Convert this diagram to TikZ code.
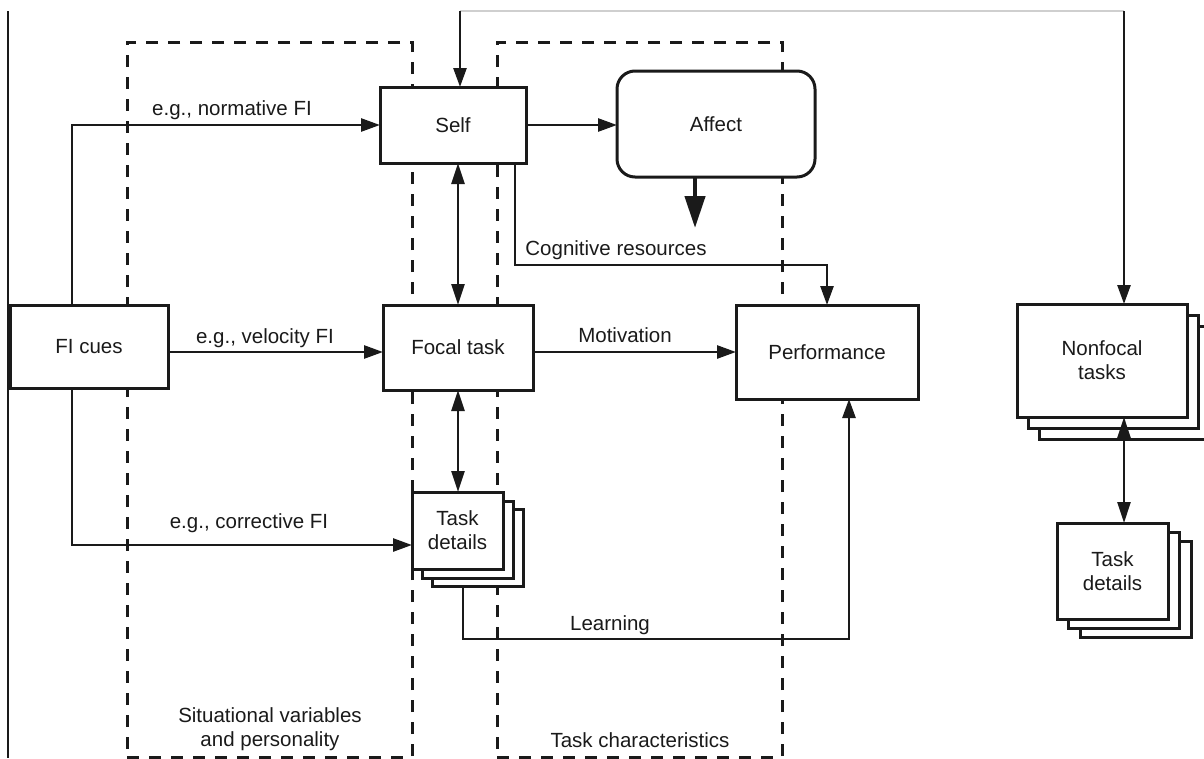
\documentclass[tikz,border=0pt]{standalone}
\usepackage{fontspec}
\setmainfont{Liberation Sans}
\usetikzlibrary{arrows.meta}
\definecolor{ink}{HTML}{1A1A1A}
\definecolor{rule}{HTML}{CFCFCF}
\begin{document}
\begin{tikzpicture}[x=1pt,y=-1pt,
  every node/.style={font=\fontsize{20.5}{24}\selectfont, text=ink},
  box/.style={draw=ink, line width=3pt, fill=white, inner sep=0pt, outer sep=0pt, align=center},
  conn/.style={draw=ink, line width=2.6pt, -{Triangle[length=19pt,width=13pt]}},
  both/.style={draw=ink, line width=2.6pt, {Triangle[length=21pt,width=13pt]}-{Triangle[length=21pt,width=13pt]}},
  heavy/.style={draw=ink, line width=4.5pt, -{Triangle[length=32pt,width=20pt]}},
  zone/.style={draw=ink, line width=3pt, dash pattern=on 12pt off 10pt, inner sep=0pt, outer sep=0pt},
  lbl/.style={inner sep=0pt, align=center}]
\useasboundingbox (0,0) rectangle (1204,758);

% moderator zones
\node[zone, minimum width=285pt, minimum height=715pt] (sitzone) at (269.5,399.5) {};
\node[zone, minimum width=285pt, minimum height=715pt] (taskzone) at (639.5,399.5) {};
\node[lbl] (sitlbl) at (270,729) {Situational variables\\and personality};
\node[lbl] (tasklbl) at (640,740) {Task characteristics};

% feedback loop frame
\coordinate (loopL) at (460,11);
\coordinate (loopR) at (1124,11);
\coordinate (frameT) at (8,11);
\coordinate (frameB) at (8,758);
\draw[rule, line width=1.2pt] (loopL) -- (loopR);
\draw[ink, line width=2.6pt] (frameT) -- (frameB);

% main boxes
\node[box, minimum width=158pt, minimum height=83pt] (fi) at (89,346.5) {FI cues};
\node[box, minimum width=146pt, minimum height=76pt] (self) at (453,125) {Self};
\node[box, rounded corners=18pt, minimum width=198pt, minimum height=106pt] (affect) at (716,124) {Affect};
\node[box, minimum width=150pt, minimum height=85pt] (focal) at (458,347.5) {Focal task};
\node[box, minimum width=182pt, minimum height=94pt] (perf) at (827,352) {Performance};

% stacked task details (focal)
\node[box, minimum width=91pt, minimum height=77pt] (tdC) at (477.5,547.5) {};
\node[box, minimum width=91pt, minimum height=77pt] (tdB) at (467.5,539.5) {};
\node[box, minimum width=91pt, minimum height=77pt] (td) at (457.5,530.5) {Task\\details};

% stacked nonfocal tasks
\node[box, minimum width=170pt, minimum height=113pt] (nfC) at (1124,382.5) {};
\node[box, minimum width=170pt, minimum height=113pt] (nfB) at (1113,371.5) {};
\node[box, minimum width=170pt, minimum height=113pt] (nf) at (1102,360.5) {Nonfocal\\tasks};

% stacked task details (nonfocal)
\node[box, minimum width=111pt, minimum height=96pt] (tdnC) at (1135.5,589) {};
\node[box, minimum width=111pt, minimum height=96pt] (tdnB) at (1123.5,580) {};
\node[box, minimum width=111pt, minimum height=96pt] (tdn) at (1112.5,571) {Task\\details};

% connectors
\draw[conn] (loopL) -- (loopL |- self.north);
\draw[conn] (loopR) -- (loopR |- nf.north);
\draw[conn] ([xshift=-17pt]fi.north) |- (self.west);
\draw[conn] (fi.east |- perf.west) -- (focal.west |- perf.west);
\draw[conn] ([xshift=-17pt]fi.south) |- ([yshift=-14.5pt]td.west);
\draw[conn] (self.east) -- (self.east -| affect.west);
\draw[heavy] ([xshift=-21pt]affect.south) -- ++(0,51);
\draw[conn] ([xshift=62pt]self.south) -- ++(0,102) -| (perf.north);
\draw[conn] (focal.east |- perf.west) -- (perf.west);
\draw[both] (focal.north) -- (focal.north |- self.south);
\draw[both] (focal.south) -- (focal.south |- td.north);
\draw[conn] ([xshift=-14.5pt]tdC.south) -- ++(0,53) -| ([xshift=22pt]perf.south);
\draw[both] ([xshift=22pt]nf.south) -- ([xshift=22pt]nf.south |- tdn.north);

% connector labels
\node[lbl] (normlbl) at (232,110) {e.g., normative FI};
\node[lbl] (vellbl) at (265,338) {e.g., velocity FI};
\node[lbl] (corrlbl) at (249,523) {e.g., corrective FI};
\node[lbl] (motlbl) at (625,335) {Motivation};
\node[lbl] (coglbl) at (616,250) {Cognitive resources};
\node[lbl] (learnlbl) at (610,625) {Learning};
\end{tikzpicture}
\end{document}
